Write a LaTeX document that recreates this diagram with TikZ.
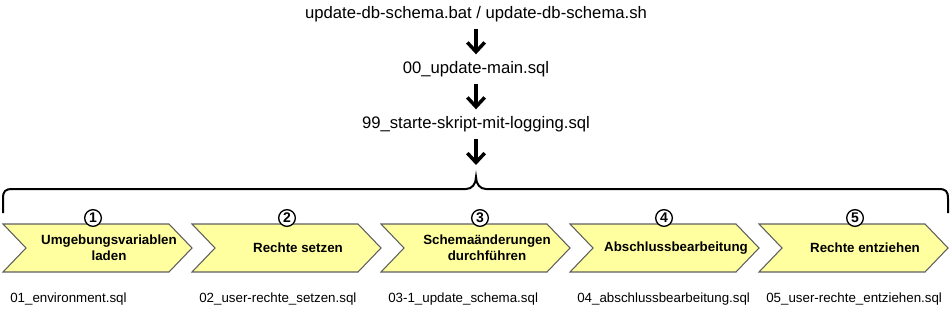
\documentclass[tikz,border=0pt]{standalone}
\usepackage{fontspec}
\setmainfont{Liberation Sans}
\usetikzlibrary{arrows.meta}
\definecolor{chevfill}{RGB}{255,255,160}
\definecolor{chevline}{RGB}{95,95,95}

\begin{document}
\begin{tikzpicture}[x=0.75pt, y=-0.75pt, >={Straight Barb[length=7pt,width=13pt]}]
  \tikzset{
    script/.style={font=\fontsize{12.5}{15}\selectfont, inner sep=1pt},
    flow/.style={->, line width=2.6pt, shorten <=4pt, shorten >=4pt},
    chev/.style={fill=chevfill, draw=chevline, line width=0.8pt},
    stepnum/.style={circle, draw, fill=white, line width=1pt, inner sep=0pt,
      minimum size=12.5pt, font=\bfseries\fontsize{10.5}{12}\selectfont},
    steplabel/.style={align=center, font=\bfseries\fontsize{10}{12}\selectfont},
    sqlfile/.style={anchor=west, inner sep=0pt, font=\fontsize{10}{12}\selectfont}
  }
  \useasboundingbox (0,0) rectangle (952,311);
  % call chain
  \node[script] (bat)  at (476,14)  {update-db-schema.bat / update-db-schema.sh};
  \node[script] (main) at (476,69)  {00\_update-main.sql};
  \node[script] (log)  at (476,124) {99\_starte-skript-mit-logging.sql};
  \coordinate (bracetip) at (476,177);
  \draw[flow] (bat) -- (main);
  \draw[flow] (main) -- (log);
  \draw[flow, shorten >=9pt] (log) -- (bracetip);
  % brace
  \draw[line width=1.5pt] (3,213) -- (3,199) .. controls (3,191) and (5,189) .. (13,189)
    -- (466,189) .. controls (472,189) and (476,184) .. (bracetip)
    .. controls (476,184) and (480,189) .. (486,189)
    -- (938,189) .. controls (946,189) and (948,191) .. (948,199) -- (948,213);
  % steps
  \foreach \i/\x/\c/\txt/\file in {
      1/3/93/{Umgebungsvariablen\\laden}/01\_environment.sql,
      2/192/287/{Rechte setzen}/02\_user-rechte\_setzen.sql,
      3/381/480/{Schemaänderungen\\durchführen}/03-1\_update\_schema.sql,
      4/570/664/{Abschlussbearbeitung}/04\_abschlussbearbeitung.sql,
      5/759/855/{Rechte entziehen}/05\_user-rechte\_entziehen.sql} {
    \draw[chev] (\x,224) -- ++(166,0) -- ++(23,24) -- ++(-23,24) -- ++(-166,0)
      -- ++(23,-24) -- cycle;
    \node[steplabel] (lbl\i) at (\x+106,248) {\txt};
    \node[stepnum] (num\i) at (\c,218) {\i};
    \node[sqlfile] (sql\i) at (\x+7,299) {\file};
  }
\end{tikzpicture}
\end{document}
